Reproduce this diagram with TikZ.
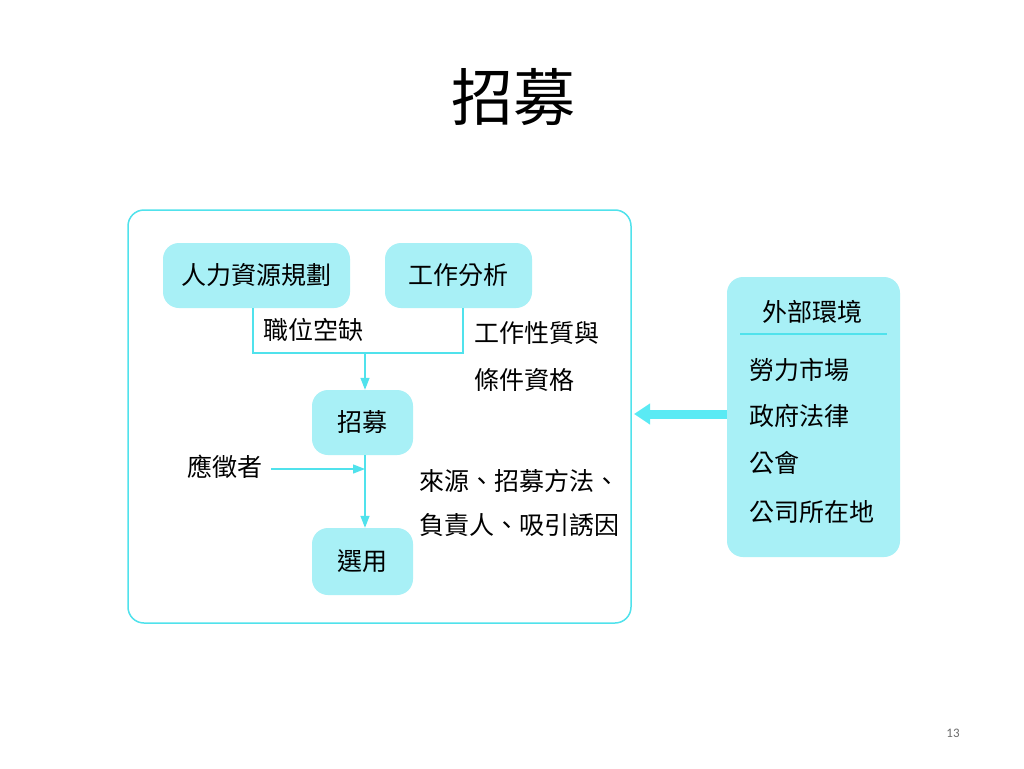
\documentclass[tikz,border=0pt]{standalone}
\usepackage{fontspec}
\setmainfont{Noto Sans CJK TC}
\newfontfamily\numfont{Carlito}
\usetikzlibrary{arrows.meta}
\definecolor{cline}{RGB}{80,226,236}
\definecolor{cfill}{RGB}{168,240,246}
\definecolor{carrow}{RGB}{90,234,244}
\tikzset{
  txt/.style={font=\fontsize{25}{30}\selectfont, inner sep=0pt, anchor=west},
  cbox/.style={fill=cfill, draw=none, rounded corners=16pt, font=\fontsize{25}{30}\selectfont, inner sep=0pt},
  thin/.style={draw=cline, line width=1.3pt},
  thinarrow/.style={thin, -{Triangle[length=12pt,width=9pt]}},
}
\begin{document}
\begin{tikzpicture}[x=1pt,y=-1pt]
\useasboundingbox (0,0) rectangle (1024,768);
\fill[white] (0,0) rectangle (1024,768);
% title
\node[font=\fontsize{62}{70}\selectfont, inner sep=0pt] (title) at (513,97) {招募};
% outer frame
\node[draw=cline, line width=1.5pt, rounded corners=16pt, minimum width=503pt, minimum height=413pt, inner sep=0pt] (frame) at (379.5,416.5) {};
% boxes
\node[cbox, minimum width=187pt, minimum height=65pt] (hr) at (256.5,275.5) {人力資源規劃};
\node[cbox, minimum width=147pt, minimum height=65pt] (ja) at (458.5,275.5) {工作分析};
\node[cbox, minimum width=101pt, minimum height=65pt] (rec) at (362.5,422.5) {招募};
\node[cbox, minimum width=101pt, minimum height=67pt] (sel) at (362.5,561.5) {選用};
% connectors
\coordinate (m) at (365,353);
\coordinate (hrb) at ([xshift=-3.5pt]hr.south);
\coordinate (jab) at ([xshift=4.5pt]ja.south);
\draw[thin] (hrb) |- (m) -| (jab);
\draw[thinarrow] (m) -- (m |- rec.north);
\draw[thinarrow] (m |- rec.south) -- (m |- sel.north);
% labels
\node[txt] (l1) at (263,330) {職位空缺};
\node[txt] (l2) at (474,333) {工作性質與};
\node[txt] (l3) at (474,380) {條件資格};
\node[txt] (app) at (187,467) {應徵者};
\coordinate (appin) at (365,469);
\coordinate (appout) at (271,469);
\draw[thinarrow] (appout) -- (appin);
\node[txt] (l4) at (419,481) {來源、招募方法、};
\node[txt] (l5) at (419,525) {負責人、吸引誘因};
% external box
\node[cbox, minimum width=173pt, minimum height=280pt] (ext) at (813.5,417) {};
\node[font=\fontsize{25}{30}\selectfont, inner sep=0pt] (extt) at (812,312) {外部環境};
\coordinate (s1) at (740,334);
\coordinate (s2) at (887,334);
\draw[draw=cline, line width=1.2pt] (s1) -- (s2);
\node[txt] (e1) at (749,370) {勞力市場};
\node[txt] (e2) at (749,416) {政府法律};
\node[txt] (e3) at (749,463) {公會};
\node[txt] (e4) at (749,512) {公司所在地};
% thick arrow
\coordinate (tip) at (634,414);
\draw[draw=carrow, line width=9pt, -{Triangle[length=16pt,width=20pt]}] (ext.west |- tip) -- (tip);
% page number
\node[font=\numfont\fontsize{13}{15}\selectfont, text=gray!85!black, inner sep=0pt] (pg) at (953,733) {13};
\end{tikzpicture}
\end{document}
